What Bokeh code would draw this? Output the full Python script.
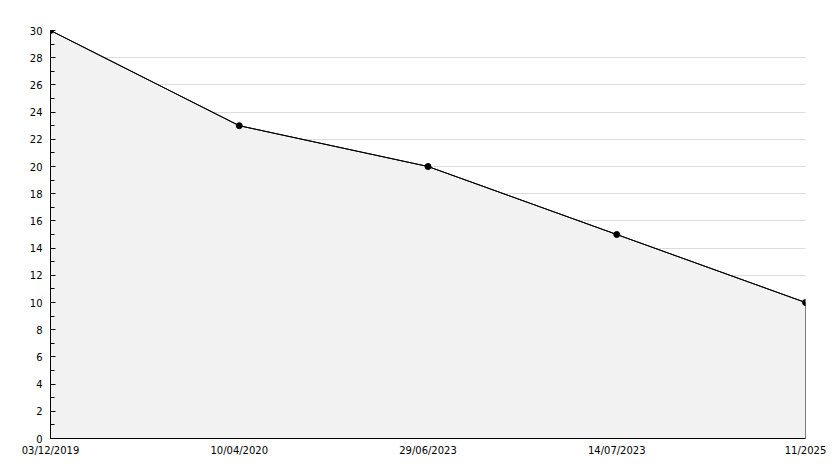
from bokeh.plotting import figure
from bokeh.models import FixedTicker, Range1d
from bokeh.embed import file_html
from bokeh.resources import INLINE

dates = ["03/12/2019", "10/04/2020", "29/06/2023", "14/07/2023", "11/2025"]
values = [30, 23, 20, 15, 10]
y_ticks = list(range(0, 31, 2))

xs = list(range(len(dates)))

p = figure(width=826, height=460, output_backend="svg", toolbar_location=None,
           x_range=Range1d(0, len(dates) - 1), y_range=Range1d(0, 30),
           min_border_left=50, min_border_top=30, min_border_right=21, min_border_bottom=22)
p.outline_line_color = None
p.background_fill_color = "white"

# area
px = xs + [xs[-1], xs[0]]
py = values + [0, 0]
p.patch(px, py, fill_color="#f2f2f2", line_color="black", line_width=1)
p.line(xs, values, line_color="black", line_width=1)
p.scatter(xs, values, marker="circle", size=6, fill_color="black", line_color="black")

p.xgrid.visible = False
p.ygrid.grid_line_color = "#dcdcdc"
p.ygrid.grid_line_width = 1

p.xaxis.ticker = FixedTicker(ticks=xs)
p.xaxis.major_label_overrides = {i: d for i, d in enumerate(dates)}
p.xaxis.major_tick_in = 0
p.xaxis.major_tick_out = 0
p.xaxis.minor_tick_in = 0
p.xaxis.minor_tick_out = 0
p.xaxis.major_label_standoff = 6

p.yaxis.ticker = FixedTicker(ticks=y_ticks, minor_ticks=list(range(1, 30, 2)))
p.yaxis.major_tick_in = 5
p.yaxis.major_tick_out = 0
p.yaxis.minor_tick_in = 4
p.yaxis.minor_tick_out = 0
p.yaxis.major_label_standoff = 8

for ax in (p.xaxis, p.yaxis):
    ax.axis_line_color = "black"
    ax.major_tick_line_color = "black"
    ax.minor_tick_line_color = "black"
    ax.major_label_text_font = "DejaVu Sans"
    ax.major_label_text_font_size = "10px"
    ax.major_label_text_color = "black"

open("out.html", "w").write(file_html(p, INLINE))
